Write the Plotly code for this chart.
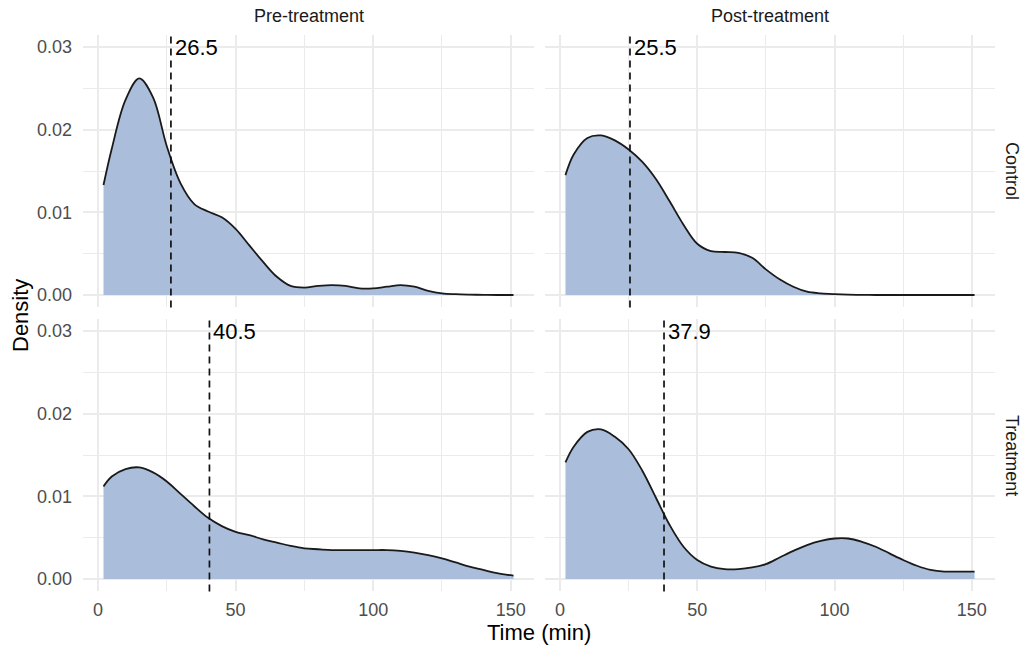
import plotly.graph_objects as go

# ---- data ----
time_min = [2, 5, 10, 15, 20, 25, 30, 35, 40, 45, 50, 55, 60, 65, 70, 75, 80, 85,
            90, 95, 100, 105, 110, 115, 120, 125, 130, 135, 140, 145, 151]

pre_control = [0.0133, 0.0177, 0.0236, 0.0262, 0.0239, 0.0180, 0.0135, 0.0110, 0.0101,
               0.0094, 0.0080, 0.0060, 0.0040, 0.0022, 0.0011, 0.0009, 0.0011, 0.0012,
               0.0011, 0.0008, 0.0008, 0.0010, 0.0012, 0.0010, 0.0005, 0.0002, 0.0001,
               0.00005, 0.00002, 0.0, 0.0]
post_control = [0.0145, 0.0170, 0.0190, 0.0193, 0.0187, 0.0176, 0.0161, 0.0140, 0.0113,
                0.0085, 0.0062, 0.0053, 0.0052, 0.0051, 0.0045, 0.0031, 0.0019, 0.0010,
                0.0004, 0.0002, 0.0001, 0.00004, 0.00002, 0.0, 0.0, 0.0, 0.0, 0.0, 0.0,
                0.0, 0.0]
pre_treatment = [0.0112, 0.0124, 0.0133, 0.0135, 0.0129, 0.0118, 0.0103, 0.0088, 0.0074,
                 0.0064, 0.0057, 0.0053, 0.0048, 0.0044, 0.0040, 0.0037, 0.0036, 0.0035,
                 0.0035, 0.0035, 0.0035, 0.0035, 0.0034, 0.0032, 0.0029, 0.0025, 0.0020,
                 0.0015, 0.0011, 0.0007, 0.0004]
post_treatment = [0.0141, 0.0160, 0.0178, 0.0181, 0.0172, 0.0157, 0.0131, 0.0098, 0.0065,
                  0.0039, 0.0023, 0.0015, 0.0012, 0.0012, 0.0014, 0.0018, 0.0026, 0.0034,
                  0.0041, 0.0046, 0.0049, 0.0049, 0.0045, 0.0039, 0.0031, 0.0023, 0.0016,
                  0.0011, 0.0009, 0.0009, 0.0009]

medians = {"pre_control": 26.5, "post_control": 25.5,
           "pre_treatment": 40.5, "post_treatment": 37.9}

col_labels = ["Pre-treatment", "Post-treatment"]
row_labels = ["Control", "Treatment"]
x_ticks = [0, 50, 100, 150]
y_ticks = [0.00, 0.01, 0.02, 0.03]
y_tick_text = ["0.00", "0.01", "0.02", "0.03"]

# ---- layout geometry (pixels) ----
W, H = 1023, 651
def px_x(p): return p / W
def px_y(p): return 1 - p / H

col_dom = [(83, 534), (545, 995)]
row_dom = [(34.6, 307.4), (318.6, 591.4)]

FILL = "#AABDDA"
GRID = "#EBEBEB"
FONT = "Liberation Sans, Arial, sans-serif"

panels = [
    (0, 0, pre_control, medians["pre_control"]),
    (0, 1, post_control, medians["post_control"]),
    (1, 0, pre_treatment, medians["pre_treatment"]),
    (1, 1, post_treatment, medians["post_treatment"]),
]

fig = go.Figure()
layout = dict(
    width=W, height=H,
    margin=dict(l=0, r=0, t=0, b=0),
    paper_bgcolor="white", plot_bgcolor="white",
    showlegend=False,
    font=dict(family=FONT),
)

shapes = []
annotations = []

for i, (r, c, dens, med) in enumerate(panels):
    idx = i + 1
    xa = "x" if idx == 1 else f"x{idx}"
    ya = "y" if idx == 1 else f"y{idx}"
    fig.add_trace(go.Scatter(
        x=time_min, y=dens, xaxis=xa, yaxis=ya,
        mode="lines", fill="tozeroy", fillcolor=FILL,
        line=dict(color="#1a1a1a", width=1.8, shape="spline", smoothing=1.0),
        hoverinfo="skip",
    ))
    xk = "xaxis" if idx == 1 else f"xaxis{idx}"
    yk = "yaxis" if idx == 1 else f"yaxis{idx}"
    cx0, cx1 = col_dom[c]
    ry0, ry1 = row_dom[r]
    layout[xk] = dict(
        domain=[px_x(cx0), px_x(cx1)], anchor=ya,
        range=[-5.45, 158.45], tickvals=x_ticks,
        showticklabels=(r == 1), ticks="",
        tickfont=dict(size=18, color="#4D4D4D", family=FONT),
        ticklabelstandoff=6,
        showgrid=True, gridcolor=GRID, gridwidth=1.6, zeroline=False,
        showline=False,
        minor=dict(tickvals=[25, 75, 125], showgrid=True, gridcolor=GRID, gridwidth=1),
    )
    layout[yk] = dict(
        domain=[px_y(ry1), px_y(ry0)], anchor=xa,
        range=[-0.0015, 0.0315], tickvals=y_ticks, ticktext=y_tick_text,
        showticklabels=(c == 0), ticks="",
        tickfont=dict(size=18, color="#4D4D4D", family=FONT),
        ticklabelstandoff=10,
        showgrid=True, gridcolor=GRID, gridwidth=1.6, zeroline=False,
        showline=False,
        minor=dict(tickvals=[0.005, 0.015, 0.025], showgrid=True, gridcolor=GRID, gridwidth=1),
    )
    shapes.append(dict(
        type="line", xref=xa, yref=f"{ya} domain",
        x0=med, x1=med, y0=0, y1=1,
        line=dict(color="#111111", width=1.7, dash="7px,5px"),
    ))
    annotations.append(dict(
        x=med, y=0.03, xref=xa, yref=ya, text=f"{med:.1f}",
        showarrow=False, xanchor="left", yanchor="middle", xshift=2,
        font=dict(size=22, color="black", family=FONT),
    ))

# strip labels (columns)
for c, lab in enumerate(col_labels):
    annotations.append(dict(
        x=px_x((col_dom[c][0] + col_dom[c][1]) / 2), y=px_y(16),
        xref="paper", yref="paper", text=lab, showarrow=False,
        xanchor="center", yanchor="middle",
        font=dict(size=18, color="#1A1A1A", family=FONT),
    ))
# strip labels (rows), rotated to read top-to-bottom
for r, lab in enumerate(row_labels):
    annotations.append(dict(
        x=px_x(1012), y=px_y((row_dom[r][0] + row_dom[r][1]) / 2),
        xref="paper", yref="paper", text=lab, showarrow=False, textangle=90,
        xanchor="center", yanchor="middle",
        font=dict(size=18, color="#1A1A1A", family=FONT),
    ))

# axis titles
annotations.append(dict(
    x=px_x(539), y=px_y(632), xref="paper", yref="paper", text="Time (min)",
    showarrow=False, xanchor="center", yanchor="middle",
    font=dict(size=22, color="black", family=FONT),
))
annotations.append(dict(
    x=px_x(20), y=px_y(316), xref="paper", yref="paper", text="Density",
    showarrow=False, textangle=-90, xanchor="center", yanchor="middle",
    font=dict(size=22, color="black", family=FONT),
))

layout["shapes"] = shapes
layout["annotations"] = annotations
fig.update_layout(**layout)

# remove the browser's default 8px body margin so the figure fills the window
fig.write_html("out.html", config={"displayModeBar": False},
               post_script="document.body.style.margin='0';")
